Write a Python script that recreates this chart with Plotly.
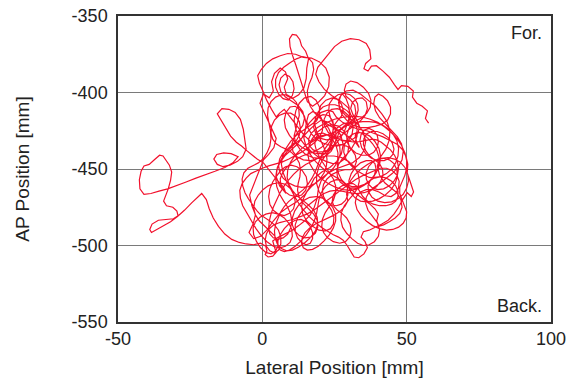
import plotly.graph_objects as go

# Centre-of-pressure trace (lateral vs. anterior-posterior), in mm, drawn in order.
lat_1 = [57.6, 56.5, 57.2, 55.4, 53.5, 52.0, 52.3, 50.4, 48.2, 47.0, 45.8, 44.0, 41.8, 39.5, 37.8, 36.6, 35.2, 35.8, 37.6, 37.2,
         36.0, 33.5, 30.5, 27.5, 25.0, 23.0, 21.0, 19.2, 18.5, 19.6, 21.5, 24.0, 27.0, 29.8, 30.8, 29.6, 27.0, 23.5, 19.8, 17.0]
ap_1 = [-420, -417, -412, -409, -407, -403, -399, -396, -395.5, -398, -395, -390, -386, -382.5, -382.8, -386, -384.5, -381, -378, -372,
        -368, -365.5, -364.8, -366.5, -370, -374.5, -379, -383.5, -388, -393, -398, -402, -405.5, -410, -415.5, -420, -424, -427, -429.5, -432.5]

lat_2 = [14.5, 12.0, 9.8, 7.6, 6.0, 4.8, 3.2, 1.5, 0.2, -1.0, -1.6, -0.4, 1.4, 3.6, 6.2, 8.8, 11.5, 14.2, 17.0, 19.8,
         22.0, 23.2, 23.0, 21.6, 19.6, 17.4, 15.6, 14.6, 13.8, 12.8, 11.6, 10.5, 9.6, 9.4, 10.4, 11.8, 13.0, 13.6, 15.0, 16.0,
         15.4, 15.2, 14.4, 12.6, 10.4, 8.4, 7.6, 8.8, 8.0, 6.2, 4.2, 3.2, 3.8, 2.4, 0.4, -0.8, 0.6, 2.0, 3.4, 4.8]
ap_2 = [-428, -422, -416, -411, -413.5, -416, -411, -405, -399, -394, -389, -385, -381, -378, -376, -374.5, -375, -377, -377.5, -380,
        -384, -390, -396, -402, -406, -409, -406, -400, -394, -388, -382, -376, -370, -365, -362, -362.5, -365.5, -369.5, -373, -378,
        -384, -391, -397, -401.5, -404, -402, -396.5, -391, -386.5, -384, -387.5, -393, -399, -403.5, -401, -407, -413, -419, -425, -430]

lat_3 = [4.0, 2.2, 0.4, -0.8, -2.0, -3.2, -4.4, -3.6, -2.4, -3.2, -4.6, -3.0, -0.6, 1.8, 3.8, 6.0, 8.8, 11.8, 14.6, 16.4,
         18.0, 20.6, 23.4, 25.8, 27.4, 28.0, 27.2, 25.4, 23.0, 20.4, 18.2, 16.0, 13.6, 11.0, 8.6, 6.6, 5.2, 4.8, 6.0, 8.2]
ap_3 = [-436, -440.5, -444, -449.5, -455, -461, -467, -474, -480, -486, -491.5, -495.5, -494, -489.5, -484, -479, -475, -471.5, -467, -462,
        -456, -452, -449, -445, -440, -434, -428, -423, -419.5, -418, -421, -425, -430, -434, -438.5, -443.5, -449, -455, -461, -466]

lat_4 = [7.4, 5.0, 2.6, 0.4, -1.8, -3.6, -5.4, -7.2, -9.0, -11.0, -12.8, -14.4, -15.6, -14.0, -11.6, -9.4, -7.6, -6.6, -6.0, -5.6,
         -6.8, -8.6, -11.2, -13.6, -15.6, -16.8, -15.8, -13.4, -10.8, -8.4, -10.2, -13.0, -16.4, -19.6, -23.0, -26.4, -29.6, -32.8, -35.8, -38.6,
         -41.0, -42.4, -42.6, -42.0, -41.0, -39.2, -37.4, -35.6, -34.4, -33.6, -32.2, -31.4, -31.8, -32.6, -33.6, -34.2, -33.2, -31.0, -29.6, -29.2,
         -30.8, -33.4, -36.0, -38.2, -39.0, -38.4, -36.6, -34.2, -31.8, -29.4, -27.0, -24.4, -21.0, -19.4, -18.4, -17.0, -15.2, -13.0, -10.6, -8.0,
         -5.6, -3.0, -0.6, 1.2, 1.6, 1.0, 2.0, 3.6, 4.8, 4.2, 3.6, 5.6, 8.0, 10.4, 12.6, 14.6, 16.6, 18.0, 19.0, 19.4]
ap_4 = [-462, -457, -451, -446, -443.5, -441, -438, -435, -432.5, -428.5, -423, -418, -414, -410.5, -411, -413, -417.5, -424, -431, -437,
        -442, -445, -447.5, -448.5, -447, -443.5, -440.5, -439.5, -440, -442, -446, -449, -451.5, -453.5, -456, -458.5, -461, -463, -464.5, -466,
        -466.5, -463, -457, -451.5, -448, -447, -444, -441, -441.5, -444, -447.5, -452, -457.5, -463, -467.5, -471, -474, -475, -477.5, -480.5,
        -482.5, -483, -483.5, -486, -489.5, -491.5, -489.5, -487, -484.5, -481, -477, -472, -466, -470, -476, -482, -487.5, -492.5, -496, -498,
        -499, -499.5, -498.5, -500.5, -503.5, -506, -507.5, -507, -504.5, -501, -497, -494.5, -492, -490, -487, -484, -480, -475, -469, -463]

lat_5 = [20.4, 22.6, 25.4, 28.4, 31.2, 33.6, 35.2, 35.8, 35.0, 33.2, 30.8, 28.6, 27.0, 26.4, 27.2, 29.0, 31.4, 34.0, 36.6, 39.2,
         41.4, 43.2, 44.2, 44.0, 42.8, 41.0, 39.8, 40.6, 42.4, 44.6, 46.6, 48.0, 48.4, 47.6, 46.0, 44.0, 42.0, 40.4, 39.6, 40.2,
         39.0, 37.0, 34.8, 32.4, 30.0, 27.6, 25.2, 22.8, 20.6, 18.4, 16.6, 15.2, 14.4, 14.8, 16.2, 18.2, 20.4, 22.6, 24.4, 25.6]
ap_5 = [-457.5, -453, -450, -448, -446, -442.5, -438, -432, -426, -421, -417.5, -414.5, -411, -406.5, -402, -399, -398.5, -401, -405, -409,
        -414, -419, -425, -431, -437, -442, -448, -454, -459, -462.5, -465.5, -470, -475, -479, -482, -484.5, -486.5, -487.5, -484, -479.5,
        -476, -472.5, -469.5, -466, -462, -458, -455, -452.5, -449, -445, -440.5, -435.5, -430, -424.5, -420, -416, -413, -411.5, -412.5, -416]

lat_6 = [27.8, 30.4, 33.2, 36.2, 39.0, 41.8, 44.4, 46.8, 48.6, 49.8, 50.4, 50.2, 51.0, 51.8, 52.4, 51.6, 50.2, 48.6, 47.2, 45.6,
         43.6, 41.4, 39.2, 37.0, 35.0, 34.2, 35.6, 36.4, 35.2, 33.4, 31.8, 30.6, 29.4, 28.0, 26.4, 24.6, 22.4, 20.4, 18.4, 16.4,
         14.6, 12.8, 11.2, 9.8, 8.4, 7.2, 6.6, 7.0, 8.2, 9.8, 11.8, 13.6, 15.4, 17.2, 18.8, 19.8, 19.8, 18.6, 16.8, 14.6]
ap_6 = [-419.5, -422, -424, -425, -427, -429, -431.5, -434, -437.5, -442, -447, -452.5, -457, -461, -465, -468, -465.5, -470, -475, -479.5,
        -483.5, -486, -488, -490, -491, -494.5, -497.5, -501.5, -505.5, -508, -507.5, -503.5, -500, -496.5, -494.5, -493, -490.5, -488, -485, -481.5,
        -477.5, -473, -468, -463, -458, -452.5, -447, -441.5, -436.5, -432, -428, -425.5, -423, -421, -418.5, -414.5, -409.5, -405, -402.5, -403.5]

lat_7 = [12.8, 11.6, 11.0, 11.6, 13.0, 15.0, 17.2, 19.6, 22.0, 24.4, 26.6, 28.4, 29.6, 30.0, 29.4, 28.2, 26.4, 24.0, 21.4, 19.0,
         17.2, 16.2, 15.8, 16.4, 18.0, 20.2, 22.8, 25.4, 28.0, 30.6, 33.0, 35.4, 37.6, 39.4, 40.6, 41.0, 40.4, 39.0, 37.2, 35.2,
         33.0, 31.0, 29.4, 28.4, 28.2, 29.0, 30.6, 32.6, 34.8, 37.0, 39.0, 41.0, 43.0, 44.8, 46.2, 47.0, 47.2, 46.6, 45.2, 43.4,
         41.4, 39.2, 37.0, 34.8, 32.6, 30.4, 28.4, 26.4, 24.6, 23.0, 21.6, 20.4, 19.4, 18.4, 17.2, 15.8, 14.2, 12.4, 10.6, 9.0]
ap_7 = [-407, -412, -418, -424, -430, -435, -439, -442.5, -445, -446.5, -446, -443.5, -439.5, -434.5, -429.5, -425, -422, -421, -422.5, -426,
        -430.5, -435.5, -441, -446.5, -451.5, -456, -459.5, -462, -463.5, -464, -463, -460.5, -457, -452.5, -447.5, -442, -436.5, -432, -428.5, -426.5,
        -426, -427.5, -430.5, -434.5, -439, -443.5, -447.5, -451, -453.5, -455.5, -456, -455, -453, -450, -446, -441.5, -436.5, -431.5, -427, -423.5,
        -421, -419.5, -419, -419, -419.5, -420.5, -422.5, -425.5, -429, -433, -437, -441.5, -446.5, -451.5, -456, -460, -463.5, -466.5, -469, -471.5]

lat_8 = [7.6, 6.4, 5.4, 4.6, 4.2, 4.4, 5.2, 6.6, 8.4, 10.4, 12.6, 14.8, 16.8, 18.4, 19.2, 19.0, 17.8, 16.0, 14.0, 12.0,
         10.4, 9.2, 8.6, 8.8, 9.8, 11.4, 13.4, 15.6, 17.8, 20.0, 22.2, 24.2, 25.8, 26.8, 27.0, 26.2, 24.6, 22.6, 20.6, 18.8,
         17.0, 15.4, 14.2, 13.6, 14.0, 15.4, 17.4, 19.6, 21.8, 23.6, 24.6, 24.8, 24.0, 22.6, 21.0, 19.6, 18.8, 18.8, 19.6, 21.0]
ap_8 = [-474.5, -478, -482, -486, -490.5, -495, -499, -502, -503.5, -503, -501, -498, -494.5, -490.5, -486, -481.5, -477, -473.5, -470.5, -467.5,
        -464, -460, -455.5, -450.5, -445.5, -441, -437, -433.5, -430.5, -428.5, -427.5, -428.5, -431, -435, -440, -445, -449.5, -453, -456, -458.5,
        -461.5, -465, -469.5, -474.5, -479.5, -484, -487.5, -490, -490.5, -489, -486, -481.5, -477, -473, -469, -464.5, -459.5, -454, -448.5, -443.5]

lat_9 = [22.8, 24.8, 26.8, 28.4, 29.6, 30.2, 30.0, 29.0, 27.6, 26.6, 26.6, 27.6, 29.4, 31.6, 34.0, 36.6, 39.2, 41.6, 43.4, 44.4,
         44.4, 43.4, 41.8, 40.2, 39.0, 38.6, 39.2, 40.6, 42.6, 44.8, 46.8, 48.2, 48.8, 48.4, 47.0, 45.0, 42.8, 40.6, 38.6, 37.0,
         36.0, 35.8, 36.6, 38.2, 39.8, 40.6, 40.2, 38.8, 37.0, 35.0, 33.0, 31.0, 29.2, 27.8, 27.2, 27.4, 28.4, 30.0, 31.6, 33.0,
         33.6, 33.2, 31.8, 29.8, 27.4, 24.8, 22.2, 19.8, 17.4, 15.0, 12.8, 10.8, 9.0, 7.4, 6.0, 4.8, 3.8, 3.0, 2.4, 2.2]
ap_9 = [-439, -435, -430.5, -425.5, -420, -414.5, -409, -404, -400.5, -404, -409.5, -414.5, -418.5, -421.5, -423, -423, -422, -420.5, -418, -414,
        -409.5, -405.5, -402.5, -401, -403, -407, -412, -416.5, -420.5, -424.5, -429, -433.5, -438.5, -444, -449, -453, -456.5, -459.5, -462, -465,
        -468.5, -472.5, -477, -481, -485, -489.5, -494, -497.5, -499.5, -500, -498.5, -495.5, -492, -488, -483.5, -478.5, -474, -470, -466.5, -462.5,
        -458, -453, -448.5, -445, -442.5, -441.5, -441.5, -442.5, -444.5, -447, -450, -453.5, -457.5, -461.5, -466, -470.5, -475, -479.5, -484, -488.5]

lat_10 = [2.6, 3.8, 5.4, 7.2, 8.8, 9.8, 10.2, 9.8, 8.8, 7.4, 6.0, 5.0, 4.6, 5.0, 6.2, 8.0, 10.0, 12.0, 13.6, 14.8,
          15.2, 14.6, 13.2, 11.4, 9.6, 8.2, 7.6, 8.0, 9.4, 11.4, 13.8, 16.4, 19.0, 21.4, 23.2, 24.2, 24.0, 23.0, 21.6, 20.4]
ap_10 = [-492.5, -495, -496, -495, -492.5, -488.5, -484, -479.5, -475, -471, -466.5, -461.5, -456, -450.5, -445.5, -441, -437.5, -434, -430, -425.5,
         -420.5, -415.5, -411.5, -409, -409.5, -413, -418, -423, -428, -432.5, -436, -438.5, -440, -440, -437.5, -433, -428, -423.5, -420, -417]

lat_11 = [19.6, 20.2, 22.0, 24.2, 26.0, 27.4, 28.0, 27.4, 26.0, 24.6, 24.4, 25.6, 27.6, 29.8, 31.8, 33.2, 33.6, 32.8, 31.4, 30.6,
          31.2, 32.8, 34.6, 36.0, 36.4, 35.6, 34.0, 32.2, 30.4, 28.6, 26.6, 24.4, 22.2, 20.2, 18.6, 17.8, 18.0, 19.2, 21.0, 23.0]
ap_11 = [-413, -408.5, -405, -403.5, -404.5, -407.5, -411.5, -415.5, -418.5, -422, -426, -429.5, -431.5, -432, -430, -426.5, -422, -418, -414.5, -410.5,
         -406.5, -404, -403.5, -406, -410.5, -415, -418.5, -421, -423.5, -426.5, -429, -430.5, -431, -430, -427, -423, -419, -416, -414.5, -415]

lat_12 = [24.4, 24.8, 24.0, 22.4, 20.4, 18.2, 16.0, 13.8, 11.8, 10.0, 8.4, 7.0, 6.2, 6.4, 7.6, 9.4, 11.6, 13.6, 15.0, 15.6,
          15.2, 13.8, 12.0, 10.0, 8.0, 6.4, 5.0, 3.6, 2.6, 2.2, 2.6, 3.8, 5.6, 7.6, 9.4, 10.8, 11.4, 11.0, 9.8, 8.0]
ap_12 = [-418.5, -423, -428, -432.5, -436, -438.5, -440, -441.5, -443.5, -446, -449, -452.5, -456.5, -461, -464.5, -467, -468, -467, -464, -459.5,
         -455, -451, -448.5, -447.5, -448.5, -451, -454.5, -458.5, -463, -468, -473, -477, -479.5, -480.5, -479, -476, -471.5, -467, -463, -460]

lat_13 = [6.0, 4.0, 2.0, 0.2, -1.4, -2.6, -3.0, -2.4, -1.0, 0.8, 2.6, 4.2, 5.2, 5.4, 4.6, 3.0, 1.2, -0.6, -2.0, -3.0,
          -3.2, -2.4, -0.8, 1.2, 3.4, 5.6, 7.6, 9.2, 10.2, 10.4, 9.6, 8.0, 6.0, 3.8, 1.6, -0.4, -2.2, -3.8, -5.4, -6.8]
ap_13 = [-459, -459.5, -461, -463.5, -467, -471, -475.5, -480, -484, -487.5, -490.5, -493.5, -497, -500.5, -503.5, -505.5, -504.5, -501.5, -497.5, -493,
         -488.5, -484.5, -481.5, -479.5, -478.5, -479.5, -482, -485.5, -489.5, -494, -498, -500.5, -501.5, -500.5, -497.5, -493.5, -489, -484, -479, -474]

lat_14 = [-7.6, -7.8, -7.0, -5.6, -4.0, -2.0, 0.0, 2.2, 4.4, 6.8, 9.2, 11.6, 14.0, 16.2, 18.2, 19.8, 20.8, 21.0, 20.4, 19.0,
          17.4, 16.0, 15.4, 15.8, 17.0, 18.8, 21.0, 23.4, 25.8, 28.0, 29.8, 31.0, 31.4, 31.0, 29.8, 28.0, 26.0, 24.0, 22.4, 21.4]
ap_14 = [-469, -464, -459.5, -456, -453, -451, -449.5, -448, -447, -445.5, -443.5, -441, -438.5, -435.5, -432.5, -429, -425, -420.5, -416.5, -413.5,
         -412.5, -414.5, -418.5, -423, -427, -430.5, -433, -434.5, -435, -434, -431.5, -428, -423.5, -419, -415, -412, -410.5, -411, -413.5, -417.5]

lat_15 = [21.6, 22.8, 24.8, 27.2, 29.6, 32.0, 34.2, 36.2, 38.0, 39.6, 41.2, 42.8, 44.4, 45.8, 46.8, 47.2, 46.8, 45.6, 44.0, 42.0,
          40.0, 38.2, 36.8, 36.0, 36.0, 36.8, 38.2, 40.0, 42.0, 44.0, 45.6, 46.6, 46.8, 46.0, 44.6, 42.6, 40.4, 38.2, 36.0, 34.0,
          32.2, 30.8, 30.0, 30.0, 30.8, 32.2, 34.0, 36.0, 37.8, 39.0, 39.4, 38.8, 37.4, 35.4, 33.2, 31.0, 29.0, 27.4, 26.4, 26.0]
ap_15 = [-422, -426, -429, -431, -432, -432.5, -432, -431, -430.5, -431, -432.5, -435, -437.5, -441, -445, -449.5, -454, -458, -461, -463,
         -463.5, -462.5, -460, -456.5, -452.5, -448.5, -445.5, -443.5, -443, -444, -446.5, -450.5, -455, -459.5, -463.5, -467, -469.5, -471, -471.5, -471,
         -469, -466, -462, -457.5, -453, -449, -446, -444.5, -444.5, -446.5, -450, -454, -457.5, -460, -461.5, -461.5, -460, -457, -453, -448.5]

lat_16 = [26.0, 26.2, 25.6, 24.4, 22.8, 21.0, 19.4, 18.4, 18.2, 18.8, 20.0, 21.6, 23.2, 24.6, 25.4, 25.4, 24.6, 23.2, 21.8, 20.8,
          20.6, 21.2, 22.6, 24.6, 26.8, 28.8, 30.2, 30.8, 30.4, 29.2, 27.6, 26.0, 24.8, 24.2, 24.6, 25.8, 27.6, 29.6, 31.4, 32.6]
ap_16 = [-444, -439.5, -435, -431, -428, -426.5, -427, -430, -434, -438.5, -443, -447.5, -452, -456.5, -461, -466, -470.5, -474.5, -478.5, -483,
         -487.5, -491.5, -495, -497.5, -498.5, -497.5, -494.5, -490.5, -486, -482, -479, -477, -474.5, -471, -467, -463.5, -461, -459.5, -459.5, -461]

lat_17 = [33.6, 34.8, 36.4, 38.4, 40.6, 42.8, 44.8, 46.2, 47.0, 47.0, 46.2, 44.8, 43.0, 41.0, 39.0, 37.4, 36.6, 36.8, 38.0, 40.0,
          42.4, 44.8, 47.0, 48.8, 50.0, 50.6, 50.4, 49.4, 47.8, 45.8, 43.6, 41.2, 38.8, 36.4, 34.2, 32.2, 30.6, 29.6, 29.2, 29.6]
ap_17 = [-464.5, -468, -471, -473, -474, -474, -473, -471, -468, -464.5, -461, -458, -456, -455, -455.5, -457.5, -461, -465, -468.5, -471,
         -472, -471.5, -469.5, -466.5, -462.5, -458, -453.5, -449, -445.5, -443.5, -442.5, -443, -444.5, -447, -450, -453.5, -457.5, -462, -466.5, -471]

lat_18 = [28.6, 27.0, 25.0, 22.8, 20.6, 18.4, 16.4, 14.8, 13.8, 13.6, 14.2, 15.6, 17.4, 19.4, 21.4, 23.2, 24.6, 25.4, 25.4, 24.4,
          22.8, 20.8, 18.6, 16.4, 14.4, 12.6, 11.2, 10.4, 10.4, 11.2, 12.8, 14.8, 16.8, 18.4, 19.2, 19.0, 17.8, 16.0, 14.2, 12.8]
ap_18 = [-474.5, -477.5, -480, -482, -484, -486, -488.5, -491.5, -495, -498.5, -501.5, -503, -502.5, -500.5, -497, -493, -488.5, -484, -479.5, -475,
         -471.5, -469, -468, -468.5, -470.5, -473.5, -477.5, -482, -486.5, -490.5, -493.5, -495, -494.5, -492, -488, -483.5, -479.5, -476, -472.5, -468.5]

lat_19 = [12.2, 12.4, 13.0, 13.2, 12.8, 11.6, 10.0, 8.2, 6.4, 4.8, 3.6, 3.0, 3.2, 4.2, 5.8, 7.8, 9.8, 11.6, 12.8, 13.2,
          12.8, 11.6, 10.0, 8.4, 7.0, 6.0, 5.6, 6.0, 7.2, 9.0, 11.2, 13.6, 16.0, 18.2, 20.0, 21.4, 22.2, 22.4, 22.0, 21.0]
ap_19 = [-464, -459.5, -455, -450.5, -446, -442, -439, -437, -435.5, -433.5, -430.5, -426.5, -422, -418, -415, -413.5, -413.5, -415.5, -419, -423.5,
         -428, -432, -435, -437.5, -440, -443.5, -447.5, -452, -456, -459, -461, -462, -461.5, -459.5, -456.5, -452.5, -448, -443.5, -439, -434.5]

lat_20 = [19.8, 18.8, 18.2, 18.4, 19.4, 21.0, 23.0, 25.2, 27.4, 29.4, 31.0, 32.2, 32.8, 32.8, 32.0, 30.8, 29.2, 27.6, 26.4, 25.8,
          26.0, 27.0, 28.6, 30.6, 32.8, 35.0, 37.0, 38.6, 39.8, 40.4, 40.4, 39.6, 38.2, 36.6, 35.0, 33.6, 32.6, 32.2, 32.6, 33.6]
ap_20 = [-430, -425.5, -421, -416.5, -412.5, -409.5, -408, -408, -409.5, -412, -415.5, -419.5, -424, -428.5, -433, -437, -440.5, -443.5, -447, -451,
         -455, -458.5, -461, -462.5, -462.5, -461, -458.5, -455, -451, -446.5, -442, -437.5, -433.5, -430, -427.5, -426, -426, -428, -432, -436]

lat_21 = [32.4, 30.4, 28.0, 25.4, 22.8, 20.4, 18.2, 16.6, 15.8, 15.6, 16.2, 17.2, 17.8, 17.4, 16.0, 14.0, 11.8, 9.6, 7.4, 5.6,
          4.6, 4.6, 5.6, 7.2, 9.0, 10.4, 11.0, 10.6, 9.4, 7.8, 6.4, 5.8, 6.4, 8.0, 10.2, 12.4, 14.0, 14.6, 14.0, 12.6]
ap_21 = [-433, -429.5, -426.5, -424, -421, -417.5, -413.5, -409, -404, -399, -394.5, -390, -385, -380.5, -377.5, -376.5, -378, -380.5, -383.5, -387,
         -391.5, -396.5, -401, -404, -405, -402, -397.5, -393, -389.5, -388, -390.5, -395, -399.5, -403, -405.5, -408.5, -412.5, -417, -421.5, -425]

lat_22 = [11.0, 10.2, 10.6, 12.0, 14.2, 16.8, 19.4, 21.6, 23.2, 24.0, 24.6, 26.0, 28.0, 30.2, 31.8, 32.4, 32.0, 30.6, 29.0, 28.4,
          29.0, 30.6, 32.8, 35.0, 36.8, 37.6, 37.4, 36.2, 34.4, 32.4, 30.2, 28.2, 26.8, 26.0, 25.2, 23.8, 21.8, 19.6, 17.6, 16.2]
ap_22 = [-429.5, -434, -438.5, -442, -444, -444.5, -443, -440, -436, -431.5, -427, -423, -420.5, -419.5, -417, -413, -408.5, -405, -402.5, -398.5,
         -394.5, -392.5, -393.5, -396.5, -400.5, -405, -409.5, -413.5, -416.5, -418.5, -420, -422, -425, -429, -433, -436.5, -438.5, -439, -437.5, -434.5]

lat_23 = [16.0, 17.0, 19.0, 21.8, 25.0, 28.4, 31.6, 34.6, 37.4, 40.0, 42.4, 44.6, 46.6, 48.2, 49.4, 50.0, 50.0, 49.4, 48.4, 47.6,
          47.6, 48.4, 49.4, 50.0, 49.8, 48.8, 47.2, 45.2, 43.0, 40.6, 38.2, 36.0, 34.2, 32.8, 32.2, 32.6, 34.0, 36.0, 38.2, 40.4,
          42.6, 44.6, 46.2, 47.2, 47.4, 46.6, 45.0, 43.0, 40.8, 38.8]
ap_23 = [-430.5, -426.5, -423, -420, -417.5, -416, -415.5, -416, -417.5, -419.5, -422.5, -426, -430, -434.5, -439.5, -444.5, -449.5, -454, -458, -462,
         -466, -470, -474, -478, -482, -485.5, -488, -489.5, -490, -489, -487, -484, -480.5, -476.5, -472, -468, -465, -463.5, -463.5, -465,
         -467.5, -468, -466, -462.5, -458, -454, -451, -449.5, -449.5, -451]

lat_24 = [36.8, 34.6, 32.2, 29.8, 27.4, 25.0, 22.6, 20.2, 17.8, 15.4, 13.0, 10.6, 8.2, 6.0, 4.0, 2.4, 1.4, 1.0, 1.4, 2.6,
          4.2, 5.6, 6.4, 6.4, 5.6, 4.2, 2.6, 1.0, -0.6, -2.0, -3.4, -4.8, -6.0, -6.8, -7.0, -6.4, -5.0, -3.2, -1.4, 0.2]
ap_24 = [-452.5, -454.5, -457, -460, -463.5, -467, -470.5, -474, -477, -479.5, -481.5, -483, -484, -485, -486.5, -489, -492.5, -496.5, -500.5, -503.5,
         -505, -503, -499, -494.5, -490, -486.5, -484, -482, -480, -477, -473.5, -469.5, -465.5, -461, -456.5, -452.5, -449.5, -447.5, -446, -443.5]

lat_25 = [1.6, 2.6, 3.0, 2.8, 2.2, 1.8, 2.0, 3.0, 4.6, 6.6, 8.6, 10.4, 11.8, 12.6, 12.8, 12.2, 11.4, 11.0, 11.6, 13.0,
          15.0, 17.4, 19.8, 22.0, 23.8, 25.0, 25.6, 25.4, 24.6, 23.6, 23.0, 23.2, 24.4, 26.2, 28.4, 30.4, 32.0, 33.0, 33.2, 32.6]
ap_25 = [-439.5, -435, -430, -425, -420, -415, -410, -406, -403, -401.5, -401.5, -403.5, -406.5, -410.5, -415, -419.5, -424, -428.5, -433, -437,
         -440.5, -442.5, -443, -441.5, -438.5, -434.5, -430, -425.5, -421, -416.5, -412, -407.5, -404, -401.5, -400.5, -401.5, -404, -407.5, -411.5, -415.5]

lat_26 = [31.4, 30.0, 29.2, 29.4, 30.6, 32.4, 34.6, 36.8, 38.6, 39.8, 40.2, 39.8, 38.6, 37.0, 35.4, 34.2, 33.8, 34.4, 35.8, 37.8,
          40.0, 42.2, 44.0, 45.2, 45.6, 45.0, 43.6, 41.8, 39.8, 37.8, 36.2, 35.2, 35.0, 35.8, 37.2, 39.0, 40.6, 41.6, 41.8, 41.0]
ap_26 = [-419.5, -423.5, -428, -432.5, -436.5, -439.5, -441, -441, -439, -436, -432, -428, -425, -423.5, -424.5, -427.5, -431.5, -436, -440, -443,
         -444.5, -444.5, -443, -440.5, -437, -433, -429.5, -427, -425.5, -425.5, -427, -430, -434, -438, -441.5, -444, -446.5, -450, -454, -458]

lat_27 = [39.6, 37.6, 35.2, 32.6, 30.0, 27.6, 25.4, 23.4, 21.4, 19.4, 17.4, 15.4, 13.6, 12.2, 11.4, 11.4, 12.2, 13.6, 15.2, 16.6,
          17.4, 17.4, 16.6, 15.2, 13.4, 11.4, 9.4, 7.6, 6.2, 5.4, 5.4, 6.2, 7.6, 9.4, 11.4, 13.4, 15.2, 16.8, 18.0, 18.8]
ap_27 = [-461.5, -464, -465.5, -466, -465.5, -464.5, -464, -464.5, -466, -468.5, -471.5, -474.5, -478, -482, -486.5, -491, -495, -498, -499.5, -498.5,
         -495.5, -491.5, -487.5, -484.5, -483, -483.5, -485.5, -489, -493, -497, -500.5, -503, -504, -503, -500.5, -497, -493, -488.5, -484, -479]

lat_28 = [19.2, 19.6, 20.4, 21.8, 23.6, 25.6, 27.4, 28.8, 29.6, 29.6, 28.8, 27.4, 25.6, 23.8, 22.2, 21.2, 20.8, 21.2, 22.4, 24.2,
          26.4, 28.6, 30.6, 32.0, 32.6, 32.2, 31.0, 29.2, 27.2, 25.4]
ap_28 = [-474.5, -470, -465.5, -461.5, -458.5, -457, -457.5, -459.5, -463, -467, -470.5, -473, -474, -473.5, -471.5, -468, -464, -460, -456.5, -453.5,
         -451.5, -450.5, -450.5, -448.5, -445, -441, -437.5, -435, -434, -434.5]

segments = [
    (lat_1, ap_1), (lat_2, ap_2), (lat_3, ap_3), (lat_4, ap_4), (lat_5, ap_5),
    (lat_6, ap_6), (lat_7, ap_7), (lat_8, ap_8), (lat_9, ap_9), (lat_10, ap_10),
    (lat_11, ap_11), (lat_12, ap_12), (lat_13, ap_13), (lat_14, ap_14), (lat_15, ap_15),
    (lat_16, ap_16), (lat_17, ap_17), (lat_18, ap_18), (lat_19, ap_19), (lat_20, ap_20),
    (lat_21, ap_21), (lat_22, ap_22), (lat_23, ap_23), (lat_24, ap_24), (lat_25, ap_25),
    (lat_26, ap_26), (lat_27, ap_27), (lat_28, ap_28),
]

lateral, ap = [], []
for seg_x, seg_y in segments:
    for xv, yv in zip(seg_x, seg_y):
        lateral.append(xv)
        ap.append(yv)

x_ticks = [-50, 0, 50, 100]
y_ticks = [-550, -500, -450, -400, -350]

FONT = "Liberation Sans, Arial, sans-serif"

fig = go.Figure(
    go.Scatter(
        x=lateral,
        y=ap,
        mode="lines",
        line=dict(color="#f2102c", width=1.2),
        hoverinfo="skip",
    )
)

fig.update_layout(
    width=582,
    height=378,
    margin=dict(l=118, r=31, t=16, b=56),
    paper_bgcolor="white",
    plot_bgcolor="white",
    showlegend=False,
    font=dict(family=FONT, size=18, color="#222"),
    annotations=[
        dict(text="For.", x=1, y=1, xref="paper", yref="paper", xanchor="right", yanchor="top",
             xshift=-7, yshift=-5, showarrow=False, font=dict(size=18, color="#222")),
        dict(text="Back.", x=1, y=0, xref="paper", yref="paper", xanchor="right", yanchor="bottom",
             xshift=-7, yshift=4, showarrow=False, font=dict(size=18, color="#222")),
    ],
)

fig.update_xaxes(
    range=[-50, 100],
    tickvals=x_ticks,
    ticktext=[str(v) for v in x_ticks],
    showgrid=True, gridcolor="#7a7a7a", gridwidth=1,
    zeroline=False,
    showline=True, linecolor="#333", linewidth=1.5, mirror=True,
    ticks="", ticklen=0,
    tickfont=dict(size=18),
    automargin=False,
    title=dict(text="Lateral Position [mm]", font=dict(size=19), standoff=14),
)
fig.update_yaxes(
    range=[-550, -350],
    tickvals=y_ticks,
    ticktext=[str(v) for v in y_ticks],
    showgrid=True, gridcolor="#7a7a7a", gridwidth=1,
    zeroline=False,
    showline=True, linecolor="#333", linewidth=1.5, mirror=True,
    ticks="", ticklen=0,
    ticklabelstandoff=5,
    tickfont=dict(size=18),
    automargin=False,
    title=dict(text="AP Position [mm]", font=dict(size=19), standoff=37),
)

fig.write_html("out.html")
